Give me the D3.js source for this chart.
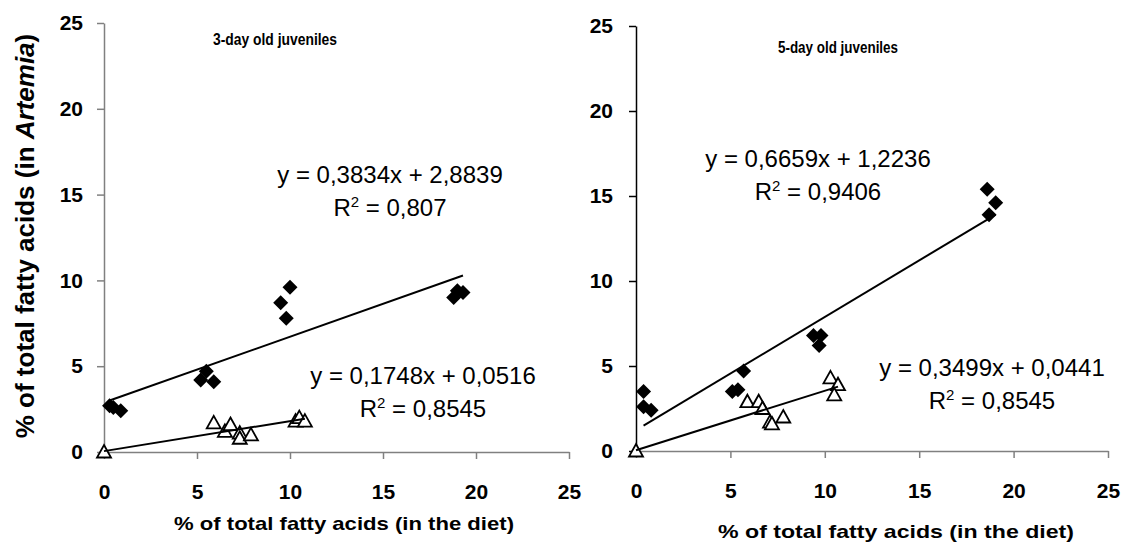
<!DOCTYPE html>
<html>
<head>
<meta charset="utf-8">
<script src="https://cdn.jsdelivr.net/npm/d3@7"></script>
<style>
  body { margin: 0; background: #fff; }
  svg { display: block; }
  text { font-family: "Liberation Sans", Arial, sans-serif; fill: #000; }
</style>
</head>
<body>
<svg id="chart" width="1123" height="544"></svg>
<script>
// Axis ticks (both panels share the same 0–25 range)
const xTickValues = [0, 5, 10, 15, 20, 25];
const yTickValues = [0, 5, 10, 15, 20, 25];

const panelTitles = ["3-day old juveniles", "5-day old juveniles"];
const xAxisTitle = "% of total fatty acids (in the diet)";

// 3-day old juveniles: filled diamonds
const diet3Filled = [0.3, 0.5, 0.9, 5.2, 5.5, 5.9, 9.5, 9.8, 10.0, 18.8, 19.0, 19.3];
const artemia3Filled = [2.7, 2.6, 2.4, 4.2, 4.7, 4.1, 8.7, 7.8, 9.6, 9.0, 9.4, 9.3];
// 3-day old juveniles: open triangles
const diet3Open = [0, 5.9, 6.5, 6.8, 7.3, 7.3, 7.9, 10.3, 10.5, 10.8];
const artemia3Open = [0, 1.7, 1.2, 1.6, 1.1, 0.8, 1.0, 1.8, 2.0, 1.8];

// 5-day old juveniles: filled diamonds
const diet5Filled = [0.4, 0.4, 0.8, 5.1, 5.4, 5.7, 9.4, 9.8, 9.7, 18.6, 19.05, 18.7];
const artemia5Filled = [3.5, 2.6, 2.4, 3.5, 3.6, 4.7, 6.8, 6.8, 6.2, 15.4, 14.6, 13.9];
// 5-day old juveniles: open triangles
const diet5Open = [0, 5.9, 6.5, 6.7, 7.1, 7.2, 7.8, 10.3, 10.7, 10.5];
const artemia5Open = [0, 2.9, 2.9, 2.5, 1.7, 1.6, 2.0, 4.3, 3.9, 3.3];

// Linear fits (filled series, open series) per panel
const slopeFilled = [0.3834, 0.6659];
const interceptFilled = [2.8839, 1.2236];
const rSquaredFilled = [0.807, 0.9406];
const slopeOpen = [0.1748, 0.3499];
const interceptOpen = [0.0516, 0.0441];
const rSquaredOpen = [0.8545, 0.8545];

const svg = d3.select("#chart");

// Panel geometry and styling
const panels = [
  {
    x: [104, 569], y: [452, 23], yAxisColor: "#808080", xAxisColor: "#808080",
    yPad: 14, titlePos: [275, 45], titleLen: 124, xTitlePos: [344, 530], xTitleLen: 340,
    eqFilled: [390, 183], eqOpen: [423, 384],
    filled: [diet3Filled, artemia3Filled], open: [diet3Open, artemia3Open]
  },
  {
    x: [636, 1108], y: [451, 26], yAxisColor: "#000", xAxisColor: "#808080",
    yPad: 16, titlePos: [838, 53], titleLen: 120, xTitlePos: [896, 538], xTitleLen: 356,
    eqFilled: [818, 167], eqOpen: [992, 376],
    filled: [diet5Filled, artemia5Filled], open: [diet5Open, artemia5Open]
  }
];

const comma = v => String(v).replace(".", ",");
const diamond = "M0,-7.5L7.5,0L0,7.5L-7.5,0Z";
const triangle = "M0,-7L7,5.5L-7,5.5Z";

panels.forEach((p, i) => {
  const xs = d3.scaleLinear().domain([0, 25]).range(p.x);
  const ys = d3.scaleLinear().domain([0, 25]).range(p.y);
  const g = svg.append("g");

  // x axis
  const xa = g.append("g")
    .attr("transform", `translate(0,${p.y[0]})`)
    .call(d3.axisBottom(xs).tickValues(xTickValues).tickSize(7).tickSizeOuter(0).tickPadding(25));
  xa.select(".domain").attr("stroke", p.xAxisColor).attr("stroke-width", 1.5);
  xa.selectAll(".tick line").attr("stroke", p.xAxisColor).attr("stroke-width", 1.5);
  xa.selectAll(".tick text")
    .attr("font-size", 21).attr("font-weight", "bold")
    .style("font-family", '"Liberation Sans", Arial, sans-serif').attr("fill", "#000");

  // y axis
  const ya = g.append("g")
    .attr("transform", `translate(${p.x[0]},0)`)
    .call(d3.axisLeft(ys).tickValues(yTickValues).tickSize(7).tickSizeOuter(0).tickPadding(p.yPad));
  ya.select(".domain").attr("stroke", p.yAxisColor).attr("stroke-width", 1.5);
  ya.selectAll(".tick line").attr("stroke", p.yAxisColor).attr("stroke-width", 1.5);
  ya.selectAll(".tick text")
    .attr("font-size", 21).attr("font-weight", "bold")
    .style("font-family", '"Liberation Sans", Arial, sans-serif').attr("fill", "#000");

  // markers: open triangles
  const openPts = p.open[0].map((d, k) => [d, p.open[1][k]]);
  g.selectAll(".tri").data(openPts).enter().append("path")
    .attr("d", triangle)
    .attr("transform", d => `translate(${xs(d[0])},${ys(d[1])})`)
    .attr("fill", "#fff").attr("stroke", "#000").attr("stroke-width", 1.8);

  // markers: filled diamonds
  const filledPts = p.filled[0].map((d, k) => [d, p.filled[1][k]]);
  g.selectAll(".dia").data(filledPts).enter().append("path")
    .attr("d", diamond)
    .attr("transform", d => `translate(${xs(d[0])},${ys(d[1])})`)
    .attr("fill", "#000");

  // trend lines across each series' x range
  const line = d3.line().x(d => xs(d[0])).y(d => ys(d[1]));
  const fit = (xsData, m, b) => {
    const [lo, hi] = d3.extent(xsData);
    return [[lo, m * lo + b], [hi, m * hi + b]];
  };
  g.append("path").attr("d", line(fit(p.filled[0], slopeFilled[i], interceptFilled[i])))
    .attr("stroke", "#000").attr("stroke-width", 2).attr("fill", "none");
  g.append("path").attr("d", line(fit(p.open[0], slopeOpen[i], interceptOpen[i])))
    .attr("stroke", "#000").attr("stroke-width", 2).attr("fill", "none");

  // equations
  const eq = (pos, m, b, r2) => {
    g.append("text").attr("x", pos[0]).attr("y", pos[1]).attr("text-anchor", "middle")
      .attr("font-size", 24).text(`y = ${comma(m)}x + ${comma(b)}`);
    const t = g.append("text").attr("x", pos[0]).attr("y", pos[1] + 33).attr("text-anchor", "middle")
      .attr("font-size", 24);
    t.append("tspan").text("R");
    t.append("tspan").attr("dy", -9).attr("font-size", 15).text("2");
    t.append("tspan").attr("dy", 9).text(` = ${comma(r2)}`);
  };
  eq(p.eqFilled, slopeFilled[i], interceptFilled[i], rSquaredFilled[i]);
  eq(p.eqOpen, slopeOpen[i], interceptOpen[i], rSquaredOpen[i]);

  // panel title
  g.append("text").attr("x", p.titlePos[0]).attr("y", p.titlePos[1]).attr("text-anchor", "middle")
    .attr("font-size", 17).attr("font-weight", "bold")
    .attr("textLength", p.titleLen).attr("lengthAdjust", "spacingAndGlyphs")
    .text(panelTitles[i]);

  // x axis title
  g.append("text").attr("x", p.xTitlePos[0]).attr("y", p.xTitlePos[1]).attr("text-anchor", "middle")
    .attr("font-size", 19).attr("font-weight", "bold")
    .attr("textLength", p.xTitleLen).attr("lengthAdjust", "spacingAndGlyphs")
    .text(xAxisTitle);
});

// y axis title (left panel only)
const yt = svg.append("text")
  .attr("transform", "translate(34,236) rotate(-90)")
  .attr("text-anchor", "middle").attr("font-size", 26).attr("font-weight", "bold");
yt.append("tspan").text("% of total fatty acids (in ");
yt.append("tspan").attr("font-style", "italic").text("Artemia");
yt.append("tspan").text(")");
</script>
</body>
</html>
